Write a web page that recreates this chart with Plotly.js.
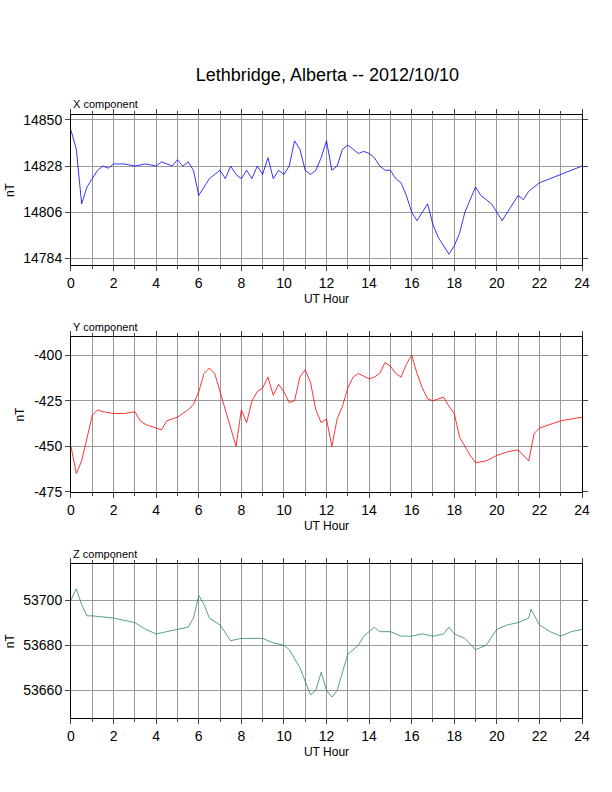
<!DOCTYPE html>
<html>
<head>
<script src="https://cdn.plot.ly/plotly-3.0.1.min.js"></script>
<style>body{margin:0}</style>
</head>
<body>
<div id="chart" style="width:612px;height:792px"></div>
<script>
// hourly samples
var xHours = [0,0.25,0.5,0.75,1,1.25,1.5,1.75,2,2.5,3,3.5,4,4.25,4.5,4.75,5,5.25,5.5,5.75,6,6.25,6.5,6.75,7,7.25,7.5,7.75,8,8.25,8.5,8.75,9,9.25,9.5,9.75,10,10.25,10.5,10.75,11,11.25,11.5,11.75,12,12.25,12.5,12.75,13,13.25,13.5,13.75,14,14.25,14.5,14.75,15,15.25,15.5,15.75,16,16.25,16.5,16.75,17,17.25,17.5,17.75,18,18.25,18.5,18.75,19,19.25,19.5,19.75,20,20.25,20.5,20.75,21,21.25,21.5,21.75,22,22.5,23,23.5,24];
var xVals = [14845,14836,14810,14818,14822,14826,14828,14827,14829,14829,14828,14829,14828,14830,14829,14828,14831,14828,14830,14826,14814,14818,14822,14824,14826,14822,14828,14824,14822,14826,14822,14828,14824,14832,14822,14826,14824,14828,14840,14836,14826,14824,14826,14832,14840,14826,14828,14836,14838,14836,14834,14835,14834,14832,14828,14826,14826,14822,14820,14814,14806,14802,14806,14810,14800,14794,14790,14786,14790,14796,14806,14812,14818,14814,14812,14810,14806,14802,14806,14810,14814,14812,14816,14818,14820,14822,14824,14826,14828];

var yHours = [0,0.25,0.5,0.75,1,1.25,1.5,2,2.5,3,3.25,3.5,4,4.25,4.5,5,5.5,5.75,6,6.25,6.5,6.75,7,7.25,7.5,7.75,8,8.25,8.5,8.75,9,9.25,9.5,9.75,10,10.25,10.5,10.75,11,11.25,11.5,11.75,12,12.25,12.5,12.75,13,13.25,13.5,14,14.25,14.5,14.75,15,15.25,15.5,15.75,16,16.25,16.5,16.75,17,17.5,17.75,18,18.25,18.5,18.75,19,19.5,20,20.5,21,21.25,21.5,21.75,22,22.5,23,23.5,24];
var yVals = [-450,-465,-458,-445,-433,-430,-431,-432,-432,-431,-436,-438,-440,-441,-436,-434,-430,-427,-420,-410,-407,-410,-420,-430,-440,-450,-430,-437,-425,-420,-418,-412,-422,-416,-420,-426,-425,-412,-408,-415,-430,-437,-435,-450,-435,-428,-418,-412,-410,-413,-412,-410,-404,-406,-410,-412,-405,-400,-410,-418,-424,-425,-423,-428,-432,-445,-450,-455,-459,-458,-455,-453,-452,-455,-458,-443,-440,-438,-436,-435,-434];

var zHours = [0,0.25,0.5,0.75,1,2,3,3.5,4,4.5,5,5.5,5.75,6,6.25,6.5,7,7.5,8,8.5,9,9.5,10,10.25,10.5,10.75,11,11.25,11.5,11.75,12,12.25,12.5,12.75,13,13.5,13.75,14,14.25,14.5,15,15.5,16,16.5,17,17.5,17.75,18,18.5,19,19.5,20,20.5,21,21.5,21.6,22,22.5,23,23.5,24];
var zVals = [53700,53705,53698,53693,53693,53692,53690,53687,53685,53686,53687,53688,53692,53702,53698,53692,53689,53682,53683,53683,53683,53681,53680,53678,53674,53670,53664,53658,53660,53668,53660,53657,53660,53668,53676,53680,53684,53686,53688,53686,53686,53684,53684,53685,53684,53685,53688,53685,53683,53678,53680,53687,53689,53690,53692,53696,53689,53686,53684,53686,53687];

var font = {family: 'Liberation Sans, Arial, sans-serif', size: 12, color: '#000'};

function xAxis(anchor) {
    return {
        domain: [0.116, 0.951], range: [0, 24], anchor: anchor,
        tickvals: [0,2,4,6,8,10,12,14,16,18,20,22,24], ticks: 'outside', ticklen: 5,
        showgrid: false, zeroline: false, showline: true, linecolor: '#000', mirror: 'ticks',
        minor: {dtick: 1, showgrid: true, gridcolor: '#999', gridwidth: 0.6, ticks: 'outside', ticklen: 3},
        title: {text: 'UT Hour', font: {size: 12}, standoff: 4},
        tickfont: {size: 14}
    };
}
function yAxis(anchor, dom, rng, vals) {
    return {
        domain: dom, range: rng, anchor: anchor, tickvals: vals, ticktext: vals.map(String),
        ticks: 'outside', ticklen: 5,
        showgrid: true, gridcolor: '#999', gridwidth: 0.6, zeroline: false,
        showline: true, linecolor: '#000', mirror: 'ticks',
        title: {text: 'nT', font: {size: 12}, standoff: 6},
        tickfont: {size: 14}
    };
}

var data = [
    {x: xHours, y: xVals, type: 'scatter', mode: 'lines', line: {color: '#0000ff', width: 0.8}, xaxis: 'x', yaxis: 'y'},
    {x: yHours, y: yVals, type: 'scatter', mode: 'lines', line: {color: '#ff0000', width: 0.8}, xaxis: 'x2', yaxis: 'y2'},
    {x: zHours, y: zVals, type: 'scatter', mode: 'lines', line: {color: '#2e8b57', width: 0.8}, xaxis: 'x3', yaxis: 'y3'}
];

var layout = {
    width: 612, height: 792, margin: {l: 0, r: 0, t: 0, b: 0},
    showlegend: false, font: font, plot_bgcolor: '#fff', paper_bgcolor: '#fff',
    title: {text: 'Lethbridge, Alberta -- 2012/10/10', x: 0.535, y: 0.914, xanchor: 'center', font: {size: 18}},
    xaxis: xAxis('y'), yaxis: yAxis('x', [0.665, 0.855], [14780.7, 14852.4], [14784, 14806, 14828, 14850]),
    xaxis2: xAxis('y2'), yaxis2: yAxis('x2', [0.379, 0.574], [-475, -390.2], [-475, -450, -425, -400]),
    xaxis3: xAxis('y3'), yaxis3: yAxis('x3', [0.093, 0.288], [53647.6, 53716], [53660, 53680, 53700]),
    annotations: [
        {text: 'X component', x: 0.116, y: 0.858, xref: 'paper', yref: 'paper', xanchor: 'left', yanchor: 'bottom', showarrow: false, font: {size: 11}},
        {text: 'Y component', x: 0.116, y: 0.577, xref: 'paper', yref: 'paper', xanchor: 'left', yanchor: 'bottom', showarrow: false, font: {size: 11}},
        {text: 'Z component', x: 0.116, y: 0.291, xref: 'paper', yref: 'paper', xanchor: 'left', yanchor: 'bottom', showarrow: false, font: {size: 11}}
    ]
};

Plotly.newPlot('chart', data, layout, {displayModeBar: false});
</script>
</body>
</html>
